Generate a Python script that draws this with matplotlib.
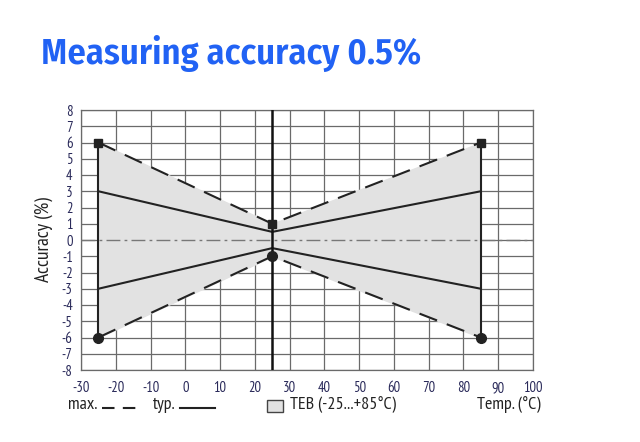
import matplotlib
matplotlib.use("Agg")
import matplotlib.pyplot as plt
from matplotlib.patches import Rectangle
from matplotlib.lines import Line2D

temps = [-25, 25, 85]
max_upper = [6, 1, 6]
max_lower = [-6, -1, -6]
typ_upper = [3, 0.5, 3]
typ_lower = [-3, -0.5, -3]
xticks = list(range(-30, 101, 10))
yticks = list(range(-8, 9, 1))

fam = ['PT Sans Narrow', 'DejaVu Sans']
title_fam = ['Fira Sans Condensed', 'DejaVu Sans']
tick_color = '#2a2a5a'
ink = '#222222'

fig = plt.figure(figsize=(6.4, 4.42), dpi=100)
W, H = 640, 442
ax = fig.add_axes([81 / W, 1 - 370 / H, (533 - 81) / W, (370 - 110) / H])

ax.set_xlim(-30, 100)
ax.set_ylim(-8, 8)
ax.set_xticks(xticks)
ax.set_yticks(yticks)
ax.set_xticklabels([str(t) for t in xticks])
ax.set_yticklabels([str(t) for t in yticks])
ax.grid(True, color='#6a6a6a', linewidth=0.9)
ax.set_axisbelow(True)
for s in ax.spines.values():
    s.set_color('#6a6a6a')
    s.set_linewidth(0.9)
ax.tick_params(length=0, labelsize=10.5, labelcolor=tick_color)
ax.tick_params(axis='x', pad=8)
ax.tick_params(axis='y', pad=6)
for lab in ax.get_xticklabels() + ax.get_yticklabels():
    lab.set_family(fam)

ax.fill_between(temps, max_lower, max_upper, color='#e2e2e2', zorder=2)
ax.axhline(0, color='#777777', linewidth=1.0, dashes=(10, 3, 2, 3), zorder=3)

ax.plot(temps, max_upper, color=ink, linewidth=1.5, dashes=(9, 5), zorder=4)
ax.plot(temps, max_lower, color=ink, linewidth=1.5, dashes=(9, 5), zorder=4)
ax.plot(temps, typ_upper, color=ink, linewidth=1.5, zorder=4)
ax.plot(temps, typ_lower, color=ink, linewidth=1.5, zorder=4)

ax.plot([temps[0], temps[0]], [max_lower[0], max_upper[0]], color=ink, linewidth=1.5, zorder=4)
ax.plot([temps[2], temps[2]], [max_lower[2], max_upper[2]], color=ink, linewidth=1.5, zorder=4)
ax.axvline(temps[1], color='#111111', linewidth=1.8, zorder=4)

ax.plot(temps, max_upper, linestyle='none', marker='s', markersize=6, color=ink, zorder=5)
ax.plot(temps, max_lower, linestyle='none', marker='o', markersize=7, color=ink, zorder=5)

ax.set_ylabel('Accuracy (%)', family=fam, fontsize=14, color=ink, labelpad=6)

fig.text(41 / W, 1 - 64 / H, 'Measuring accuracy 0.5%', family=title_fam, fontsize=26.3,
         fontweight='semibold', color='#2162f4', va='baseline')

ty = 1 - 405 / H
fs = 13
fig.text(68 / W, ty, 'max.', family=fam, fontsize=fs, color=ink, va='center')
fig.add_artist(Line2D([102 / W, 138 / W], [ty - 0.006, ty - 0.006], color=ink,
                      linewidth=1.5, dashes=(6, 4)))
fig.text(153 / W, ty, 'typ.', family=fam, fontsize=fs, color=ink, va='center')
fig.add_artist(Line2D([180 / W, 215 / W], [ty - 0.006, ty - 0.006], color=ink,
                      linewidth=1.5))
fig.add_artist(Rectangle((267 / W, ty - 0.016), 16 / W, 0.027, facecolor='#e2e2e2',
                         edgecolor='#444444', linewidth=1.0))
fig.text(290 / W, ty, 'TEB (-25...+85°C)', family=fam, fontsize=fs, color=ink, va='center')
fig.text(477 / W, ty, 'Temp. (°C)', family=fam, fontsize=fs, color=ink, va='center')

fig.savefig('out.png', dpi=100)
